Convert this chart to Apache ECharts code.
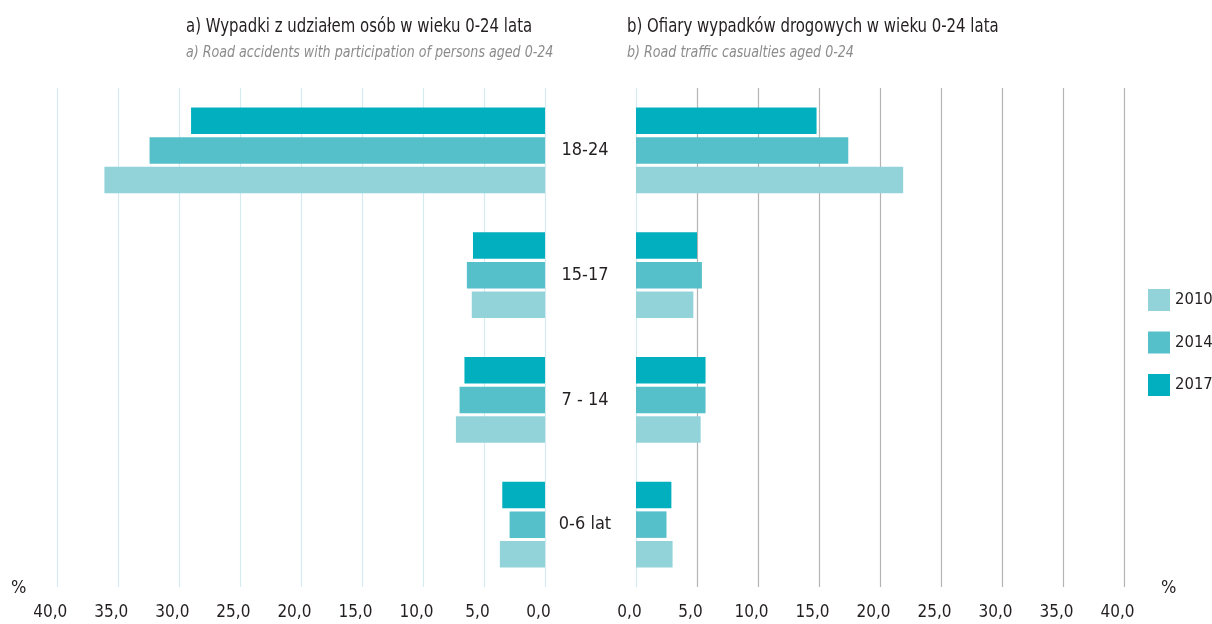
<!DOCTYPE html>
<html>
<head>
<meta charset="utf-8">
<script src="https://cdn.jsdelivr.net/npm/echarts@6/dist/echarts.min.js"></script>
<style>
  html, body { margin: 0; padding: 0; background: #fff; }
  #chart { width: 1212px; height: 624px; }
</style>
</head>
<body>
<div id="chart"></div>
<script>
// Age groups, bottom to top
const categories = ['0-6 lat', '7 - 14', '15-17', '18-24'];
const years = ['2010', '2014', '2017'];

// a) Road accidents with participation of persons aged 0-24 (%)
const accidents2010 = [3.7, 7.3, 6.0, 36.1];
const accidents2014 = [2.9, 7.0, 6.4, 32.4];
const accidents2017 = [3.5, 6.6, 5.9, 29.0];

// b) Road traffic casualties aged 0-24 (%)
const casualties2010 = [3.0, 5.3, 4.7, 21.9];
const casualties2014 = [2.5, 5.7, 5.4, 17.4];
const casualties2017 = [2.9, 5.7, 5.0, 14.8];

const colors = { '2010': '#92d3da', '2014': '#55bfca', '2017': '#02afbe' };
const FONT = "'Liberation Sans Narrow', 'DejaVu Sans Condensed', 'Roboto Condensed', sans-serif";
const fmt = v => v.toFixed(1).replace('.', ',');

const chart = echarts.init(document.getElementById('chart'), null, { renderer: 'canvas' });

function bar(name, data, gridIdx) {
  return {
    name: name,
    type: 'bar',
    xAxisIndex: gridIdx,
    yAxisIndex: gridIdx,
    data: data,
    barWidth: 26.5,
    barGap: '11.5%',
    itemStyle: { color: colors[name] },
    silent: true
  };
}

const valueAxisCommon = {
  type: 'value',
  min: 0,
  max: 40,
  interval: 5,
  axisLine: { show: false },
  axisTick: { show: false },
  axisLabel: {
    formatter: fmt,
    fontSize: 17,
    color: '#231f20',
    fontFamily: FONT,
    margin: 17,
    padding: [0, 13, 0, 0]
  }
};

// condensed heading text
function heading(x, y, text, size, color, italic, sx) {
  return {
    type: 'text', x: x, y: y, scaleX: sx, silent: true,
    style: {
      text: text, fontSize: size, fill: color, fontFamily: FONT,
      fontStyle: italic ? 'italic' : 'normal', textVerticalAlign: 'top'
    }
  };
}

chart.setOption({
  animation: false,
  textStyle: { fontFamily: FONT },
  legend: {
    data: years,
    orient: 'vertical',
    left: 1143,
    top: 284,
    itemWidth: 22,
    itemHeight: 22,
    itemGap: 20.5,
    icon: 'rect',
    selectedMode: false,
    textStyle: { fontSize: 16.5, color: '#231f20', fontFamily: FONT, lineHeight: 22 }
  },
  grid: [
    { left: 56.8, right: 1212 - 545, top: 88, bottom: 624 - 587 },
    { left: 636, right: 1212 - 1124, top: 88, bottom: 624 - 587 }
  ],
  xAxis: [
    Object.assign({}, valueAxisCommon, {
      gridIndex: 0,
      inverse: true,
      splitLine: { show: true, lineStyle: { color: '#d4ebf0', width: 1.2 } }
    }),
    Object.assign({}, valueAxisCommon, {
      gridIndex: 1,
      splitLine: {
        show: true,
        lineStyle: {
          color: ['#d4ebf0', '#b4b4b4', '#b4b4b4', '#b4b4b4', '#b4b4b4',
                  '#b4b4b4', '#b4b4b4', '#b4b4b4', '#b4b4b4'],
          width: 1.2
        }
      }
    })
  ],
  yAxis: [
    {
      type: 'category',
      gridIndex: 0,
      data: categories,
      position: 'right',
      axisLine: { show: false },
      axisTick: { show: false },
      axisLabel: {
        align: 'center',
        margin: 40,
        fontSize: 18,
        color: '#231f20',
        fontFamily: FONT
      }
    },
    {
      type: 'category',
      gridIndex: 1,
      data: categories,
      axisLine: { show: false },
      axisTick: { show: false },
      axisLabel: { show: false }
    }
  ],
  graphic: [
    heading(186, 17, 'a) Wypadki z udziałem osób w wieku 0-24 lata', 20, '#231f20', false, 0.83),
    heading(186, 45, 'a) Road accidents with participation of persons aged 0-24', 16, '#8c8c8c', true, 0.88),
    heading(627, 17, 'b) Ofiary wypadków drogowych w wieku 0-24 lata', 20, '#231f20', false, 0.83),
    heading(627, 45, 'b) Road traffic casualties aged 0-24', 16, '#8c8c8c', true, 0.88),
    { type: 'text', left: 11, top: 579, style: { text: '%', fontSize: 18, fill: '#231f20', fontFamily: FONT } },
    { type: 'text', left: 1161, top: 579, style: { text: '%', fontSize: 18, fill: '#231f20', fontFamily: FONT } }
  ],
  // 2017 first so it sits at the top of each group
  series: [
    bar('2017', accidents2017, 0),
    bar('2014', accidents2014, 0),
    bar('2010', accidents2010, 0),
    bar('2017', casualties2017, 1),
    bar('2014', casualties2014, 1),
    bar('2010', casualties2010, 1)
  ]
});
</script>
</body>
</html>
